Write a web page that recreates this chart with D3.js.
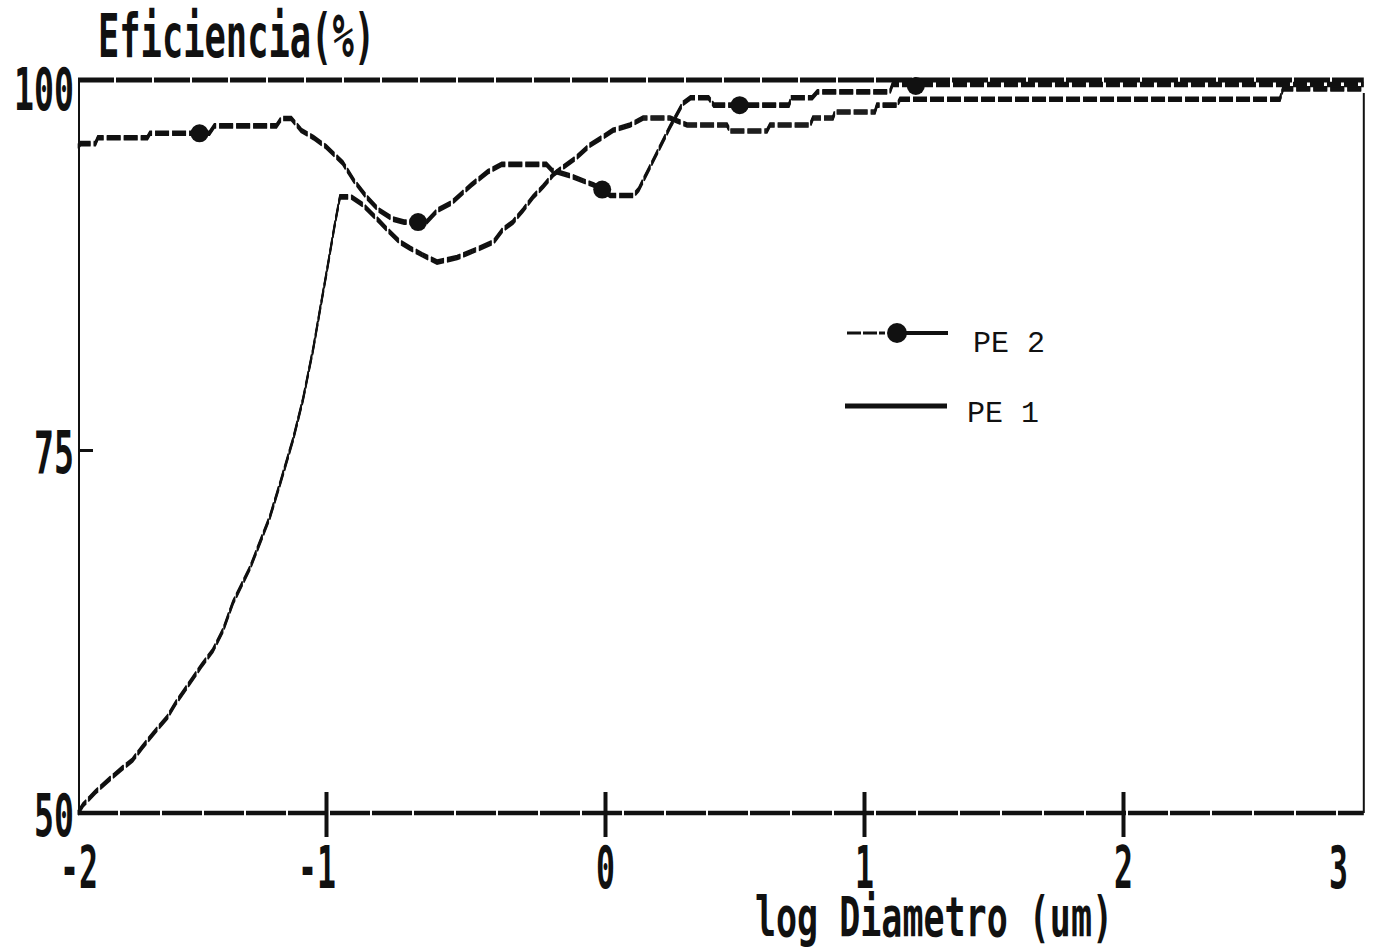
<!DOCTYPE html>
<html>
<head>
<meta charset="utf-8">
<script src="https://cdn.jsdelivr.net/npm/d3@7"></script>
<style>
  body { margin: 0; background: #fff; }
  svg { display: block; }
</style>
</head>
<body>
<div id="chart"></div>
<script>

// axis ticks
var xTickValues = [-2, -1, 0, 1, 2, 3]
var xTickLabels = ["-2", "-1", "0", "1", "2", "3"]
var yTickValues = [50, 75, 100]
var yTickLabels = ["50", "75", "100"]

// PE 1 (no markers), log diameter vs efficiency %
var pe1X = [-2.00, -1.98, -1.96, -1.93, -1.875, -1.82, -1.78, -1.74, -1.685, -1.64, -1.605, -1.55, -1.50, -1.456, -1.415, -1.375,
	-1.306, -1.226, -1.185, -1.133, -1.093, -1.052, -1.024, -0.996, -0.978, -0.968, -0.957, -0.95, -0.91, -0.87, -0.806, -0.781,
	-0.735, -0.70, -0.656, -0.602, -0.53, -0.448, -0.40, -0.366, -0.33, -0.294, -0.258, -0.222, -0.186, -0.151, -0.10, -0.054,
	-0.007, 0.031, 0.097, 0.147, 0.251, 0.317, 0.471, 0.483, 0.625, 0.637, 0.792, 0.803, 0.88, 0.888, 1.042, 1.05, 1.127, 1.139,
	2.73, 2.744, 3.12]
var pe1Y = [50.0, 50.55, 50.9, 51.45, 52.3, 53.1, 53.65, 54.55, 55.7, 56.6, 57.6, 58.95, 60.2, 61.2, 62.6, 64.5,
	66.9, 70.4, 72.7, 75.7, 78.4, 81.8, 84.5, 87.2, 89.2, 90.3, 91.4, 92.1, 92.1, 91.6, 90.4, 89.9,
	89.05, 88.65, 88.2, 87.7, 88.0, 88.65, 89.05, 89.9, 90.4, 91.2, 92.1, 92.8, 93.6, 94.1, 94.8, 95.6,
	96.15, 96.6, 96.96, 97.43, 97.43, 96.96, 96.96, 96.55, 96.55, 96.96, 96.96, 97.43, 97.43, 97.84, 97.84, 98.3, 98.3, 98.7,
	98.7, 99.4, 99.4]

// PE 2 (with markers)
var pe2X = [-2.00, -1.99, -1.93, -1.92, -1.72, -1.71, -1.47, -1.45, -1.20, -1.18, -1.14, -1.10, -1.05, -1.00, -0.94, -0.90,
	-0.85, -0.81, -0.76, -0.72, -0.64, -0.60, -0.55, -0.48, -0.42, -0.37, -0.21, -0.19, -0.12, -0.04, 0.02, 0.11,
	0.13, 0.17, 0.21, 0.25, 0.30, 0.33, 0.40, 0.42, 0.71, 0.72, 0.80, 0.82, 1.10, 1.11, 3.12]
var pe2Y = [95.5, 95.7, 95.7, 96.1, 96.1, 96.4, 96.4, 96.9, 96.9, 97.4, 97.4, 96.6, 96.1, 95.5, 94.4, 93.2,
	92.0, 91.2, 90.6, 90.4, 90.4, 91.2, 91.7, 92.9, 93.8, 94.3, 94.3, 93.9, 93.5, 92.9, 92.2, 92.2,
	92.6, 94.0, 95.4, 96.8, 98.4, 98.8, 98.8, 98.3, 98.3, 98.8, 98.8, 99.2, 99.2, 99.7, 99.7]
var pe2MarkerX = [-1.51, -0.67, -0.01, 0.52, 1.2]
var pe2MarkerY = [96.4, 90.4, 92.6, 98.3, 99.6]

var ink = "#111"
var width = 1373
var height = 950

var svg = d3.select("#chart").append("svg")
	.attr("width", width)
	.attr("height", height)

svg.append("rect").attr("width", width).attr("height", height).attr("fill", "#fff")

// the scan is not quite linear, so piecewise scales
var x = d3.scaleLinear().domain([-2, -1, 0, 1, 2, 3]).range([78, 326, 605, 864, 1123, 1338])
var y = d3.scaleLinear().domain([50, 75, 100]).range([813, 450, 80])

var xEnd = x(3.12)

// frame
svg.append("line").attr("x1", x(-2)).attr("x2", xEnd).attr("y1", y(100)).attr("y2", y(100))
	.attr("stroke", ink).attr("stroke-width", 5).attr("stroke-dasharray", "36 2")
svg.append("line").attr("x1", x(-2) + 1).attr("x2", x(-2) + 1).attr("y1", y(100)).attr("y2", y(50))
	.attr("stroke", ink).attr("stroke-width", 2)
svg.append("line").attr("x1", xEnd).attr("x2", xEnd).attr("y1", 93).attr("y2", y(50))
	.attr("stroke", ink).attr("stroke-width", 2)
svg.append("line").attr("x1", x(-2)).attr("x2", xEnd).attr("y1", y(50)).attr("y2", y(50))
	.attr("stroke", ink).attr("stroke-width", 4.5).attr("stroke-dasharray", "40 2")

// x axis ticks cross the axis line
var xAxis = d3.axisBottom(x).tickValues([-1, 0, 1, 2]).tickSize(24).tickFormat("")
var gx = svg.append("g").attr("transform", "translate(0," + y(50) + ")").call(xAxis)
gx.select(".domain").remove()
gx.selectAll(".tick line").attr("y1", -21).attr("stroke", ink).attr("stroke-width", 4)

var yAxis = d3.axisRight(y).tickValues([75]).tickSize(15).tickFormat("")
var gy = svg.append("g").attr("transform", "translate(" + x(-2) + ",0)").call(yAxis)
gy.select(".domain").remove()
gy.selectAll(".tick line").attr("stroke", ink).attr("stroke-width", 3)

// chunky narrow printer lettering
var bigFont = "'DejaVu Sans Mono', monospace"

svg.selectAll(".xlab")
	.data(xTickValues)
	.enter().append("text")
	.attr("class", "xlab")
	.attr("x", function(d) { return Math.max(x(d) + 10, 98) })
	.attr("y", 888)
	.attr("text-anchor", "end")
	.attr("font-family", bigFont).attr("font-weight", "bold").attr("font-size", 58)
	.attr("textLength", function(d, i) { return 19 * xTickLabels[i].length })
	.attr("lengthAdjust", "spacingAndGlyphs")
	.attr("fill", ink)
	.text(function(d, i) { return xTickLabels[i] })

svg.selectAll(".ylab")
	.data(yTickValues)
	.enter().append("text")
	.attr("class", "ylab")
	.attr("x", 74)
	.attr("y", function(d) { return y(d) + (d == 100 ? 30 : 23) })
	.attr("text-anchor", "end")
	.attr("font-family", bigFont).attr("font-weight", "bold").attr("font-size", 58)
	.attr("textLength", function(d, i) { return 20 * yTickLabels[i].length })
	.attr("lengthAdjust", "spacingAndGlyphs")
	.attr("fill", ink)
	.text(function(d, i) { return yTickLabels[i] })

svg.append("text")
	.attr("x", 98).attr("y", 57)
	.attr("font-family", bigFont).attr("font-weight", "bold").attr("font-size", 60)
	.attr("textLength", 277).attr("lengthAdjust", "spacingAndGlyphs")
	.attr("fill", ink)
	.text("Eficiencia(%)")

svg.append("text")
	.attr("x", 755).attr("y", 936)
	.attr("font-family", bigFont).attr("font-weight", "bold").attr("font-size", 56)
	.attr("textLength", 358).attr("lengthAdjust", "spacingAndGlyphs")
	.attr("fill", ink)
	.text("log Diametro (um)")

// dot matrix pen: tall and narrow, so draw each curve a few times shifted vertically
var line = d3.line()
	.x(function(d) { return x(d[0]) })
	.y(function(d) { return y(d[1]) })

function drawSeries(xs, ys) {
	var pts = xs.map(function(v, i) { return [v, ys[i]] })
	var g = svg.append("g")
	;[-2, -1, 0, 1, 2].forEach(function(dy) {
		g.append("path")
			.datum(pts)
			.attr("transform", "translate(0," + dy + ")")
			.attr("d", line)
			.attr("fill", "none")
			.attr("stroke", ink)
			.attr("stroke-width", 1.6)
			.attr("stroke-dasharray", "14 3")
	})
}

drawSeries(pe1X, pe1Y)
drawSeries(pe2X, pe2Y)

svg.selectAll(".marker")
	.data(pe2MarkerX)
	.enter().append("circle")
	.attr("class", "marker")
	.attr("cx", function(d) { return x(d) })
	.attr("cy", function(d, i) { return y(pe2MarkerY[i]) })
	.attr("r", 9)
	.attr("fill", ink)

// legend
var legend = svg.append("g")
legend.append("line").attr("x1", 847).attr("x2", 885).attr("y1", 333).attr("y2", 333)
	.attr("stroke", ink).attr("stroke-width", 3).attr("stroke-dasharray", "14 2")
legend.append("line").attr("x1", 905).attr("x2", 948).attr("y1", 333).attr("y2", 333)
	.attr("stroke", ink).attr("stroke-width", 4)
legend.append("circle").attr("cx", 897).attr("cy", 333).attr("r", 10).attr("fill", ink)
legend.append("line").attr("x1", 845).attr("x2", 947).attr("y1", 406).attr("y2", 406)
	.attr("stroke", ink).attr("stroke-width", 5)
legend.append("text").attr("x", 973).attr("y", 352)
	.attr("font-family", "'Liberation Mono', 'Courier New', monospace").attr("font-size", 30)
	.attr("fill", ink).text("PE 2")
legend.append("text").attr("x", 967).attr("y", 422)
	.attr("font-family", "'Liberation Mono', 'Courier New', monospace").attr("font-size", 30)
	.attr("fill", ink).text("PE 1")

</script>
</body>
</html>
